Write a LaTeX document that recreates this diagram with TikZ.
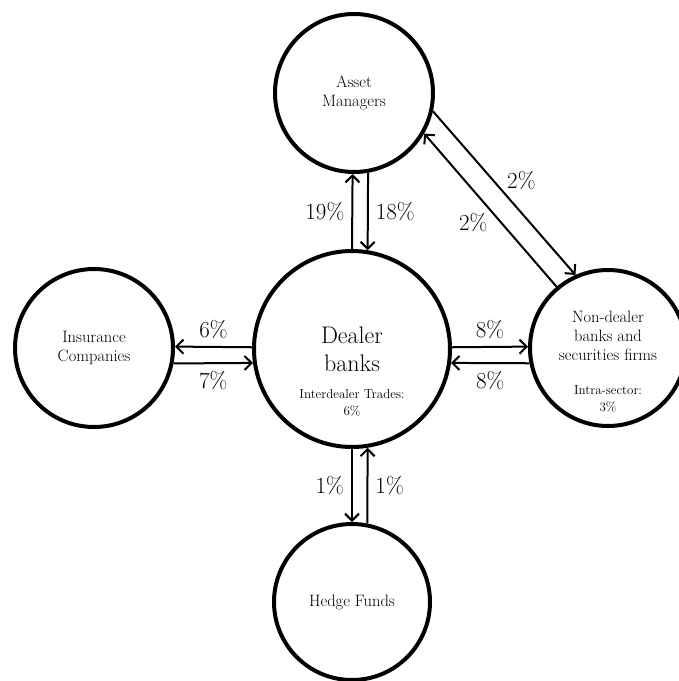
\documentclass[tikz,border=0pt]{standalone}
\usetikzlibrary{arrows.meta,positioning}
\tikzset{
  sector/.style={circle,draw,line width=4pt,inner sep=0pt,align=center,font=\fontsize{16.5}{19}\selectfont},
  flow/.style={line width=2pt,-{Straight Barb[length=7pt,width=14pt,line width=2pt]}},
  share/.style={font=\fontsize{23}{26}\selectfont,inner sep=2pt},
  note/.style={align=center,font=\fontsize{13}{17}\selectfont}
}
\begin{document}
\begin{tikzpicture}[x=1pt,y=-1pt]
\useasboundingbox (0,0) rectangle (679,681);
% sectors
\node[sector,minimum size=158pt] (am) at (354,93) {Asset\\Managers};
\node[sector,minimum size=196pt,font=\fontsize{24}{28}\selectfont] (db) at (352,349) {Dealer\\banks};
\node[sector,minimum size=158pt] (ins) at (94,348) {Insurance\\Companies};
\node[sector,minimum size=156pt] (nd) at (608,348) {};
\node[sector,minimum size=156pt] (hf) at (352,602) {Hedge Funds};
\node[align=center,font=\fontsize{16.5}{19}\selectfont] (ndtext) at (608,336) {Non-dealer\\banks and\\securities firms};
\node[note] (dbnote) at (352,403) {Interdealer Trades:\\6\%};
\node[note] (ndnote) at (608,399) {Intra-sector:\\3\%};
% flows
\draw[flow] (db.90) -- node[share,left=5pt] {19\%} (am.-91);
\draw[flow] (am.-80) -- node[share,right=5pt] {18\%} (db.81);
\draw[flow] (db.179) -- node[share,above=5pt] {6\%} (ins.1);
\draw[flow] (ins.-11) -- node[share,below=5pt] {7\%} (db.-172);
\draw[flow] (db.1) -- node[share,above=5pt] {8\%} (nd.179);
\draw[flow] (nd.-169) -- node[share,below=5pt] {8\%} (db.-8);
\draw[flow] (db.-90) -- node[share,left=5pt] {1\%} (hf.90);
\draw[flow] (hf.79) -- node[share,right=5pt] {1\%} (db.-81);
\draw[flow] (am.-13) -- node[share,above right=0pt] {2\%} (nd.114);
\draw[flow] (nd.130) -- node[share,below left=0pt] {2\%} (am.-30);
\end{tikzpicture}
\end{document}
